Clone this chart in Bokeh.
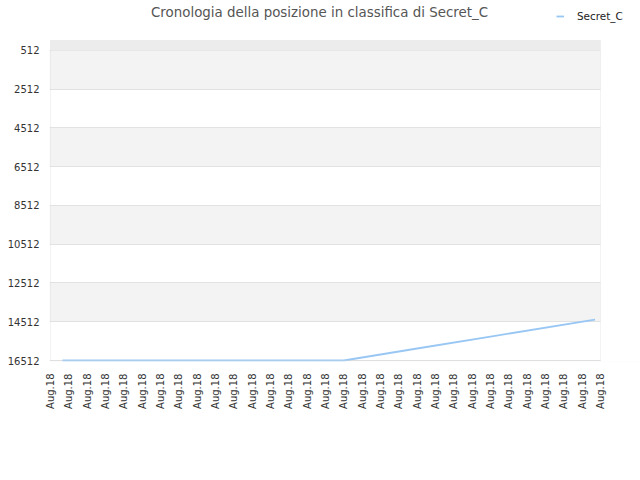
import math
from bokeh.plotting import figure
from bokeh.models import Range1d, FixedTicker, BoxAnnotation, Legend, LegendItem, Label
from bokeh.embed import file_html
from bokeh.resources import INLINE

# ---- data ----
tick_positions = list(range(31))
tick_labels = ["Aug.18"] * 31
rank_ticks = [512, 2512, 4512, 6512, 8512, 10512, 12512, 14512, 16512]
series_name = "Secret_C"
title_text = "Cronologia della posizione in classifica di " + series_name
day_pos = [0.65, 4.0, 8.0, 12.0, 16.0, 20.0, 24.0, 29.7]
rank = [16512, 16512, 16512, 16512, 16512, 15893, 15277, 14400]

# ---- layout (pixels) ----
W, H = 640, 480
plot_left, plot_right, plot_top, plot_bottom = 50, 600, 40, 360   # visible plot box
frame_left, frame_bottom = 49, 361                                 # drawing frame extends a bit
x_lo, x_hi = tick_positions[0], tick_positions[-1]
y_lo, y_hi = 0, rank_ticks[-1]
ux = (plot_right - plot_left) / (x_hi - x_lo)     # px per x unit
uy = (plot_bottom - plot_top) / (y_hi - y_lo)     # px per rank unit

x_range = Range1d(x_lo - (plot_left - frame_left) / ux, x_hi + (W - plot_right) / ux)
y_range = Range1d(y_hi + (frame_bottom - plot_bottom) / uy, y_lo - plot_top / uy)

p = figure(width=W, height=H, output_backend="svg", toolbar_location=None,
           min_border_left=frame_left, min_border_right=0, min_border_top=0,
           min_border_bottom=H - frame_bottom,
           x_range=x_range, y_range=y_range)
p.title.text = ""
p.background_fill_color = "white"
p.border_fill_color = "white"
p.outline_line_color = None

p.xgrid.grid_line_color = None
p.ygrid.grid_line_color = "#e2e2e2"
p.ygrid.band_fill_color = "#f3f3f3"
p.ygrid.band_fill_alpha = 1.0

# strip above the first tick
p.add_layout(BoxAnnotation(left=x_lo, right=x_hi, top=y_lo, bottom=rank_ticks[0],
                           fill_color="#ececec", fill_alpha=1, line_alpha=0, level="underlay"))

p.yaxis.ticker = FixedTicker(ticks=rank_ticks)
p.yaxis.major_label_overrides = {t: str(t) for t in rank_ticks}
p.xaxis.ticker = FixedTicker(ticks=tick_positions)
p.xaxis.major_label_overrides = {t: l for t, l in zip(tick_positions, tick_labels)}
p.xaxis.major_label_orientation = math.pi / 2

for ax in (p.xaxis, p.yaxis):
    ax.axis_line_color = None
    ax.major_tick_line_color = None
    ax.minor_tick_line_color = None
    ax.major_tick_out = 0
    ax.major_tick_in = 0
    ax.major_label_text_font = "DejaVu Sans"
    ax.major_label_text_font_size = "10px"
    ax.major_label_text_color = "#333333"
p.yaxis.major_label_standoff = 10
p.xaxis.major_label_standoff = 12

r = p.line(day_pos, rank, line_color="#99c7f4", line_width=1.8)

# white mask right of the plot box, and the plot box outline
p.add_layout(BoxAnnotation(left=x_hi, fill_color="white", fill_alpha=1, line_alpha=0))
p.add_layout(BoxAnnotation(left=x_lo, right=x_hi, top=y_lo, bottom=y_hi,
                           fill_alpha=0, line_color="#d6d6d6", line_width=1))

# title
p.add_layout(Label(x=x_lo + (319 - plot_left) / ux, y=y_lo - (plot_top - 12) / uy,
                   text=title_text, text_align="center", text_baseline="middle",
                   text_font="DejaVu Sans", text_font_size="13.4px", text_color="#555555"))

legend = Legend(items=[LegendItem(label=series_name, renderers=[r])],
                location=(556 - frame_left, frame_bottom - 22), orientation="horizontal",
                margin=0, padding=0, spacing=0,
                glyph_width=8, glyph_height=12, label_height=12, label_standoff=13,
                label_text_font="DejaVu Sans", label_text_font_size="10.4px",
                label_text_color="#222222", label_text_baseline="middle",
                border_line_alpha=0, background_fill_alpha=0)
p.add_layout(legend, "center")

open("out.html", "w").write(file_html(p, INLINE))
